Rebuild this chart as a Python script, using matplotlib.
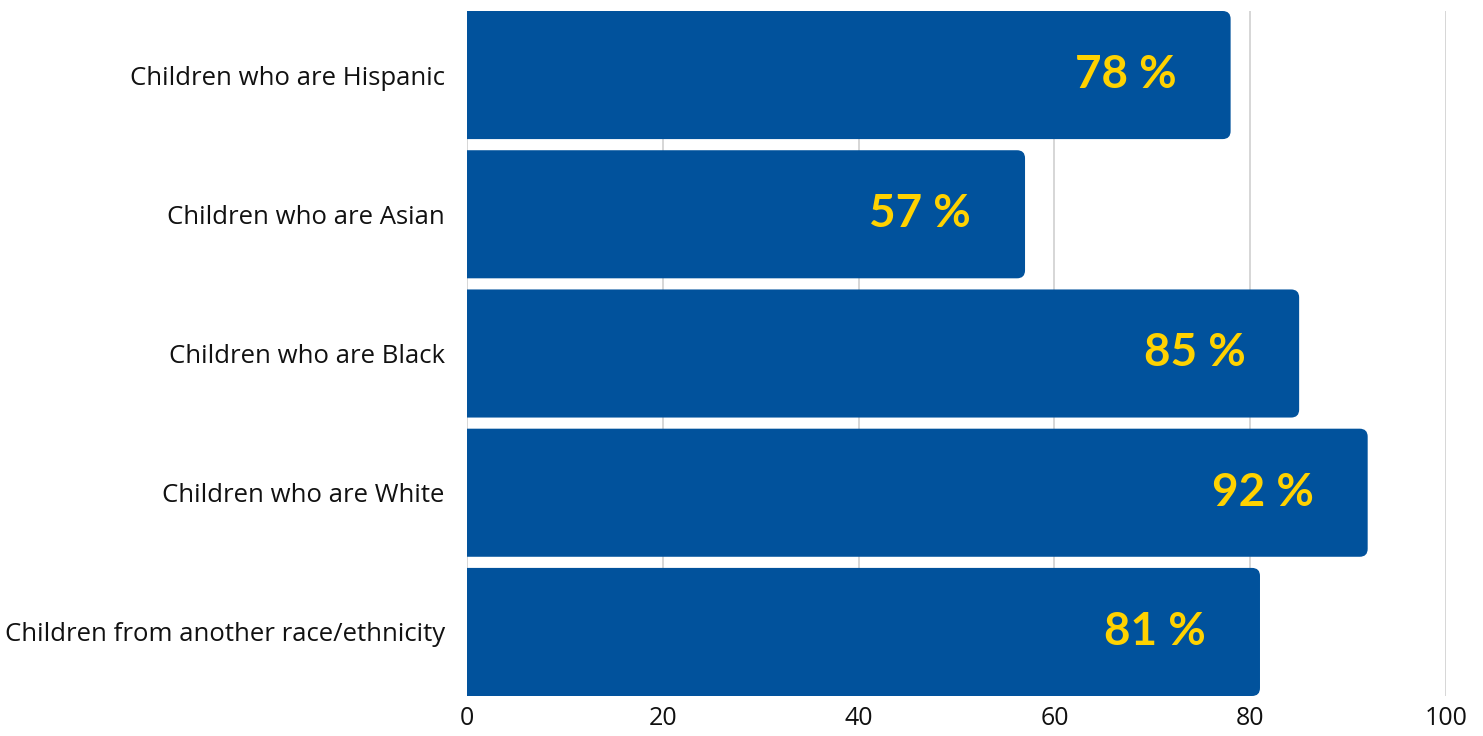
import matplotlib.pyplot as plt
from matplotlib.patches import FancyBboxPatch

categories = [
    "Children who are Hispanic",
    "Children who are Asian",
    "Children who are Black",
    "Children who are White",
    "Children from another race/ethnicity",
]
values = [78, 57, 85, 92, 81]
xticks = [0, 20, 40, 60, 80, 100]

plt.rcParams['font.family'] = ['Open Sans', 'DejaVu Sans']

bar_color = "#01529C"
label_color = "#FFD200"
bar_h = 0.92

fig = plt.figure(figsize=(14.83, 7.36), dpi=100)
ax = fig.add_axes([467 / 1483, 1 - 696 / 736, (1446 - 467) / 1483, (696 - 11) / 736])

ax.set_xlim(0, 100)
ax.set_ylim(len(categories) - 1 + bar_h / 2, -bar_h / 2)

# rounding radius in pixels -> data units
px_x = (1446 - 467) / 100.0
px_y = (696 - 11) / (len(categories) - 1 + bar_h)
r = 8 / px_x
aspect = (8 / px_y) / r

for i, v in enumerate(values):
    y0 = i - bar_h / 2
    # start left of 0 so the left rounded corners get clipped away
    ax.add_patch(FancyBboxPatch((-2 * r, y0), v + 2 * r, bar_h,
                                boxstyle=f"round,pad=0,rounding_size={r}",
                                mutation_aspect=aspect,
                                facecolor=bar_color, edgecolor='none', zorder=2))
    ax.text(v - 5.5, i, f"{v} %", ha='right', va='center', color=label_color,
            fontsize=33, fontweight='bold', family=['Lato', 'DejaVu Sans'], zorder=3)

ax.set_yticks(range(len(categories)))
ax.set_yticklabels(categories, fontsize=18.5)
ax.set_xticks(xticks)
ax.set_xticklabels([str(t) for t in xticks], fontsize=18)
ax.tick_params(axis='both', length=0, colors='#111111')
ax.tick_params(axis='y', pad=16)
ax.tick_params(axis='x', pad=7)

ax.grid(axis='x', color='#d0d0d0', linewidth=1.2, zorder=0)
ax.set_axisbelow(True)
for s in ax.spines.values():
    s.set_visible(False)

fig.savefig("out.png", dpi=100)
